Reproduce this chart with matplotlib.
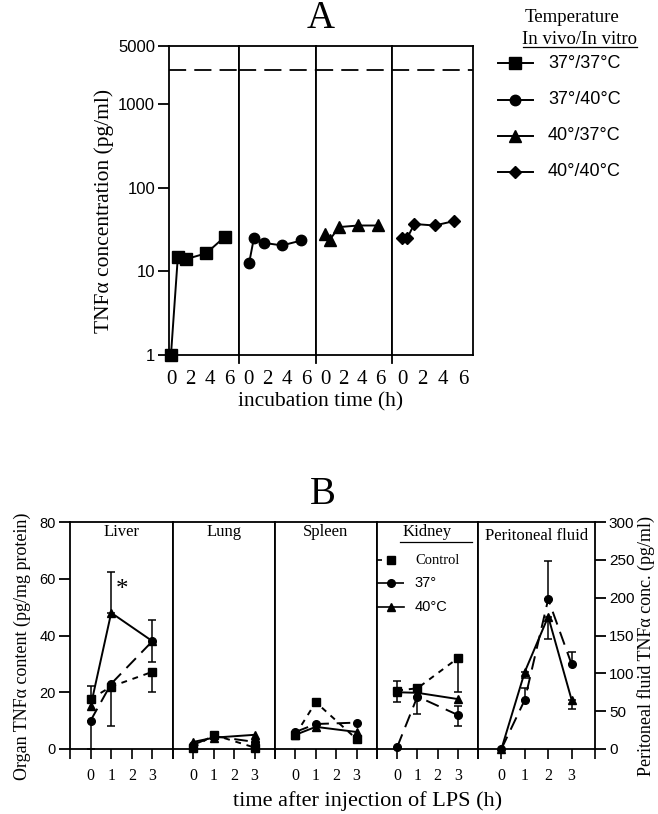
import matplotlib
matplotlib.use('Agg')
import matplotlib.pyplot as plt
from matplotlib.lines import Line2D

W, H = 658, 814
SERIF = 'Liberation Serif'
SANS = 'Liberation Sans'
plt.rcParams['font.family'] = SERIF

# ---- panel A: TNFa in supernatant, four temperature combinations
a_labels = ['37°/37°C', '37°/40°C', '40°/37°C', '40°/40°C']
a_markers = ['s', 'o', '^', 'D']
a_msize = [8, 7.5, 8, 6]
a_x = [[0, 0.7, 1.5, 3.6, 5.5],
       [0.1, 0.6, 1.6, 3.5, 5.5],
       [0, 0.5, 1.5, 3.6, 5.7],
       [0, 0.5, 1.2, 3.2, 5.1]]
a_y = [[1, 14.8, 14, 16.5, 26],
       [12.7, 25.5, 22, 20.5, 23.5],
       [28, 24, 34, 35.5, 35.5],
       [25, 25, 37, 35.5, 40]]
a_ref = 2600
a_yticks = [1, 10, 100, 1000, 5000]
a_xticks = [0, 2, 4, 6]

# ---- panel B: organ content after LPS injection
b_organs = ['Liver', 'Lung', 'Spleen', 'Kidney']
b_x = [0, 1, 3]
ctrl = [[17.6, 22, 27.2], [0.5, 5, 0.5], [5, 16.5, 3.5], [20.6, 21.4, 32]]
ctrl_lo = [[0, 14, 7.2], [0, 0, 0], [0, 0, 0], [3.9, 0, 12]]
ctrl_hi = [[4.5, 0, 0], [0, 0, 0], [0, 0, 0], [3.5, 0, 0]]
t37 = [[10, 23, 38], [1.5, 4.5, 2.5], [6, 8.8, 9.3], [0.7, 18.5, 12]]
t37_lo = [[10, 0, 7.5], [0, 0, 0], [0, 0, 0], [0, 6, 3.8]]
t37_hi = [[0, 0, 7.5], [0, 0, 0], [0, 0, 0], [0, 0, 3]]
t40 = [[15, 48, 38], [2.5, 4, 5], [5, 7.8, 6], [20, 19.8, 17.6]]
t40_lo = [[0, 0, 0], [0, 0, 0], [0, 0, 0], [0, 0, 0]]
t40_hi = [[0, 14.5, 0], [0, 0, 0], [0, 0, 0], [0, 0, 0]]

per_label = 'Peritoneal fluid'
per_x = [0, 1, 2, 3]
per_37 = [0, 65, 198, 112]
per_37_lo = [0, 0, 0, 0]
per_37_hi = [0, 16, 51, 16]
per_40 = [0, 102, 175, 65]
per_40_lo = [0, 8, 29, 12]
per_40_hi = [0, 0, 0, 0]

b_legend = ['Control', '37°', '40°C']


def rect(x0, y0, x1, y1):
    return [x0 / W, 1 - y1 / H, (x1 - x0) / W, (y1 - y0) / H]


def fx(x):
    return x / W


def fy(y):
    return 1 - y / H


LW = 1.4
STY = {'ctrl': dict(ls=(0, (3, 3)), marker='s', ms=6),
       't37': dict(ls=(0, (7, 4)), marker='o', ms=5.5),
       't40': dict(ls='-', marker='^', ms=6)}

fig = plt.figure(figsize=(W / 100, H / 100), dpi=100)

# ================= panel A =================
a_edges = [169, 239, 316, 392, 473]
a_xlims = [(-0.2, 6.95), (-0.95, 7.0), (-1.0, 7.25), (-1.0, 7.0)]
for i in range(4):
    ax = fig.add_axes(rect(a_edges[i], 46, a_edges[i + 1], 355))
    ax.set_yscale('log')
    ax.set_ylim(1, 5000)
    ax.set_xlim(*a_xlims[i])
    ax.plot(a_x[i], a_y[i], '-', color='k', lw=LW, marker=a_markers[i],
            ms=a_msize[i], clip_on=False, zorder=3)
    ax.axhline(a_ref, color='k', lw=1.3, ls=(0, (9.5, 4.5)))
    for s in ax.spines.values():
        s.set_linewidth(1.3)
    ax.set_xticks(a_xticks)
    ax.set_xticklabels([str(t) for t in a_xticks], fontsize=15, fontfamily=SERIF)
    ax.tick_params(axis='x', length=0, pad=11)
    ax.minorticks_off()
    if i == 0:
        ax.set_yticks(a_yticks)
        ax.set_yticklabels([str(t) for t in a_yticks], fontsize=12,
                           fontfamily=SANS)
        ax.tick_params(axis='y', length=8, width=1.3, pad=2)
    else:
        ax.set_yticks([])
        ax.plot([0, 0], [0, -0.026], transform=ax.transAxes, color='k',
                lw=1.3, clip_on=False)

fig.text(fx(321), fy(19), 'A', ha='center', va='center', fontsize=28)
fig.text(fx(104), fy(211), 'TNFα concentration (pg/ml)', rotation=90,
         ha='center', va='center', fontsize=15.5)
fig.text(fx(321), fy(402), 'incubation time (h)', ha='center', va='center',
         fontsize=15.5)

# legend of panel A
fig.text(fx(572), fy(18), 'Temperature', ha='center', va='center', fontsize=13.5)
fig.text(fx(580), fy(39), 'In vivo/In vitro', ha='center', va='center',
         fontsize=13.5)
fig.add_artist(Line2D([fx(523), fx(637)], [fy(47), fy(47)], color='k', lw=0.9))
a_rows = [63, 100, 136, 172]
for i in range(4):
    fig.add_artist(Line2D([fx(498), fx(533)], [fy(a_rows[i])] * 2, color='k',
                          lw=LW))
    fig.add_artist(Line2D([fx(515)], [fy(a_rows[i])], color='k', ls='none',
                          marker=a_markers[i], ms=a_msize[i]))
    fig.text(fx(548), fy(a_rows[i]), a_labels[i], ha='left', va='center',
             fontsize=13, fontfamily=SANS)

# ================= panel B =================
b_edges = [70, 173, 275, 377, 478, 595]
b_top, b_bot = 522, 749


def draw_series(ax, x, y, lo, hi, key):
    for xi, yi, l, h in zip(x, y, lo, hi):
        if l > 0 or h > 0:
            ax.errorbar([xi], [yi], yerr=[[l], [h]], fmt='none', ecolor='k',
                        elinewidth=1.1, capsize=3, capthick=1.1, clip_on=False)
    ax.plot(x, y, color='k', lw=LW, clip_on=False, zorder=3, **STY[key])


for i in range(5):
    ax = fig.add_axes(rect(b_edges[i], b_top, b_edges[i + 1], b_bot))
    ax.set_xlim(-1, 4)
    for s in ax.spines.values():
        s.set_linewidth(1.3)
    ax.set_xticks([-1, 0, 1, 2, 3, 4])
    ax.set_xticklabels(['', '0', '1', '2', '3', ''], fontsize=11.5,
                       fontfamily=SERIF)
    ax.tick_params(axis='x', length=7, width=1.2, pad=7)
    if i < 4:
        ax.set_ylim(0, 80)
        draw_series(ax, b_x, ctrl[i], ctrl_lo[i], ctrl_hi[i], 'ctrl')
        draw_series(ax, b_x, t37[i], t37_lo[i], t37_hi[i], 't37')
        draw_series(ax, b_x, t40[i], t40_lo[i], t40_hi[i], 't40')
        ax.text(0.5, 0.955, b_organs[i], transform=ax.transAxes, ha='center',
                va='center', fontsize=12)
        if i == 0:
            ax.set_yticks([0, 20, 40, 60, 80])
            ax.set_yticklabels(['0', '20', '40', '60', '80'], fontsize=10.5,
                               fontfamily=SANS)
            ax.tick_params(axis='y', length=8, width=1.3, pad=2)
            ax.text(1.52, 56, '*', ha='center', va='center', fontsize=18)
        else:
            ax.set_yticks([])
        if i == 3:
            rows = [0.832, 0.731, 0.627]
            ends = [0.138, 0.27, 0.27]
            for key, r, e, lab in zip(['ctrl', 't37', 't40'], rows, ends,
                                      b_legend):
                st = dict(STY[key])
                ax.plot([0.0, e], [r, r], transform=ax.transAxes, color='k',
                        lw=1.2, ls=st['ls'], clip_on=False)
                ax.plot([0.138], [r], transform=ax.transAxes, color='k',
                        ls='none', marker=st['marker'], ms=st['ms'])
                fam = SERIF if key == 'ctrl' else SANS
                ax.text(0.375, r, lab, transform=ax.transAxes, ha='left',
                        va='center', fontsize=10.5, fontfamily=fam)
            ax.plot([0.23, 0.94], [0.912, 0.912], transform=ax.transAxes,
                    color='k', lw=0.9)
    else:
        ax.set_ylim(0, 300)
        draw_series(ax, per_x, per_37, per_37_lo, per_37_hi, 't37')
        draw_series(ax, per_x, per_40, per_40_lo, per_40_hi, 't40')
        ax.text(0.5, 0.94, per_label, transform=ax.transAxes, ha='center',
                va='center', fontsize=12)
        ax.yaxis.tick_right()
        ax.set_yticks([0, 50, 100, 150, 200, 250, 300])
        ax.set_yticklabels(['0', '50', '100', '150', '200', '250', '300'],
                           fontsize=11, fontfamily=SANS)
        ax.tick_params(axis='y', length=8, width=1.3, pad=2)

fig.text(fx(323), fy(494), 'B', ha='center', va='center', fontsize=28)
fig.text(fx(22), fy(646), 'Organ TNFα content (pg/mg protein)', rotation=90,
         ha='center', va='center', fontsize=13)
fig.text(fx(646), fy(646), 'Peritoneal fluid TNFα conc. (pg/ml)', rotation=90,
         ha='center', va='center', fontsize=13)
fig.text(fx(368), fy(801), 'time after injection of LPS (h)', ha='center',
         va='center', fontsize=16)

fig.savefig('out.png', dpi=100)
